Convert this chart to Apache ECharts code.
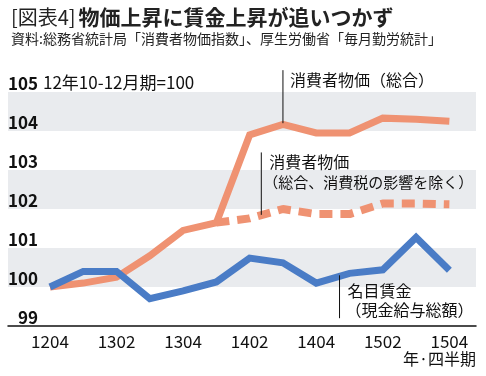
<!DOCTYPE html>
<html>
<head>
<meta charset="utf-8">
<script src="https://cdn.jsdelivr.net/npm/echarts@6/dist/echarts.min.js"></script>
<style>
  html, body { margin: 0; padding: 0; background: #fff; }
  #main { width: 486px; height: 376px; }
</style>
</head>
<body>
<div id="main"></div>
<script>
// 四半期 (年+四半期)
var quarters = ['1204', '1301', '1302', '1303', '1304', '1401', '1402', '1403', '1404', '1501', '1502', '1503', '1504'];
var tickLabels = ['1204', '1302', '1304', '1402', '1404', '1502', '1504'];
// 消費者物価（総合）
var cpiTotal = [100.0, 100.1, 100.25, 100.8, 101.45, 101.65, 103.9, 104.17, 103.95, 103.95, 104.33, 104.3, 104.25];
// 消費者物価（総合、消費税の影響を除く）… 1401から
var cpiExTax = [null, null, null, null, null, 101.65, 101.76, 102.0, 101.87, 101.87, 102.14, 102.14, 102.12];
// 名目賃金（現金給与総額）
var wages = [100.0, 100.4, 100.4, 99.7, 99.9, 100.13, 100.74, 100.62, 100.1, 100.35, 100.44, 101.27, 100.43];

var font = '"Noto Sans CJK JP", "Noto Sans", sans-serif';
var orange = '#ef9272';
var blue = '#4a7cc6';

function pairs(arr) {
    var out = [];
    for (let i = 0; i < arr.length; i++) {
        if (arr[i] != null) out.push([i, arr[i]]);
    }
    return out;
}

var myChart = echarts.init(document.getElementById('main'));

var option = {
    animation: false,
    textStyle: { fontFamily: font },
    title: {
        left: 6,
        top: 2,
        text: '{a|[図表4]}{b|物価上昇に賃金上昇が追いつかず}',
        subtext: '資料:総務省統計局「消費者物価指数」、厚生労働省「毎月勤労統計」',
        itemGap: 4,
        textStyle: {
            rich: {
                a: { fontFamily: font, fontSize: 20, fontWeight: 'normal', color: '#222' },
                b: { fontFamily: font, fontSize: 21, fontWeight: 'bold', color: '#222', padding: [0, 0, 0, 3] }
            }
        },
        subtextStyle: { fontFamily: font, fontSize: 14, color: '#222' }
    },
    grid: { left: 8, right: 10, top: 92, bottom: 50 },
    xAxis: {
        type: 'value',
        min: -1.26,
        max: 12.8,
        axisLine: { show: true, lineStyle: { color: '#111', width: 1.5 } },
        axisTick: { show: false },
        splitLine: { show: false },
        axisLabel: {
            customValues: [0, 2, 4, 6, 8, 10, 12],
            formatter: function (v) { return quarters[Math.round(v)]; },
            fontSize: 17,
            color: '#111',
            margin: 7
        }
    },
    yAxis: {
        type: 'value',
        min: 99,
        max: 105,
        interval: 1,
        axisLine: { show: false },
        axisTick: { show: false },
        splitLine: { show: false },
        splitArea: { show: true, areaStyle: { color: ['#ffffff', '#e9ebee'] } },
        axisLabel: {
            inside: true,
            align: 'left',
            verticalAlign: 'bottom',
            margin: 0,
            formatter: function (v) { return '{v|' + v + '}'; },
            rich: {
                v: { width: 30, align: 'right', fontSize: 17, fontWeight: 'bold', color: '#111', fontFamily: font }
            }
        }
    },
    series: [
        {
            name: '消費者物価（総合）',
            type: 'line',
            symbol: 'none',
            z: 3,
            lineStyle: { color: orange, width: 7, join: 'miter' },
            data: pairs(cpiTotal)
        },
        {
            name: '消費者物価（総合、消費税の影響を除く）',
            type: 'line',
            symbol: 'none',
            z: 2,
            lineStyle: { color: orange, width: 8, type: [13, 8], cap: 'butt' },
            data: pairs(cpiExTax)
        },
        {
            name: '名目賃金',
            type: 'line',
            symbol: 'none',
            z: 4,
            lineStyle: { color: blue, width: 7, join: 'miter' },
            data: pairs(wages)
        }
    ]
};

myChart.setOption(option);

// 注記と引出線
function px(x, y) { return myChart.convertToPixel({ gridIndex: 0 }, [x, y]); }
function leader(x, y1, y2) {
    var a = px(x, y1), b = px(x, y2);
    return { type: 'line', z: 10, shape: { x1: a[0], y1: a[1], x2: b[0], y2: b[1] }, style: { stroke: '#111', lineWidth: 1 } };
}
function label(x, y, text, size) {
    return { type: 'text', z: 10, x: x, y: y, style: { text: text, font: size + 'px ' + font, fill: '#111', verticalAlign: 'middle' } };
}

var l1 = px(7, 105.56);
var l2 = px(6.35, 104.6);
var l3 = px(8.7, 99.2);

myChart.setOption({
    graphic: [
        label(43, 83, '12年10-12月期=100', 17),
        leader(7, 105.56, 104.2),
        label(l1[0] + 7, l1[1] + 10, '消費者物価（総合）', 16),
        leader(6.35, 103.45, 101.85),
        label(l2[0] + 8, 162, '消費者物価', 16),
        label(l2[0] + 2, 182, '（総合、消費税の影響を除く）', 15),
        leader(8.7, 99.2, 100.3),
        label(l3[0] + 8, 291, '名目賃金', 16),
        label(l3[0] + 6, 310, '（現金給与総額）', 16),
        { type: 'text', z: 10, right: 10, top: 351, style: { text: '年·四半期', font: '16px ' + font, fill: '#111' } }
    ]
});

window.onresize = myChart.resize;
</script>
</body>
</html>
